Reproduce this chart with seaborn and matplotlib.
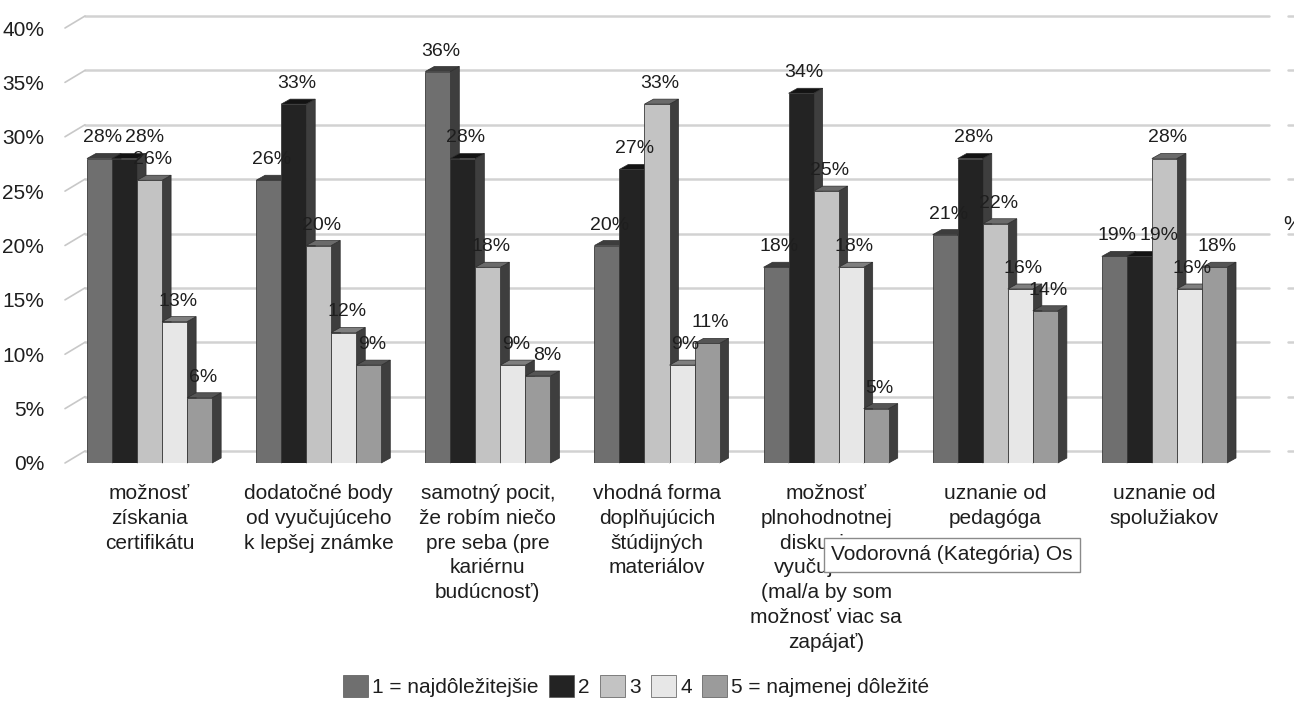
import matplotlib
matplotlib.use('Agg')
import matplotlib.pyplot as plt
from matplotlib.patches import Polygon, Patch
import pandas as pd
import seaborn as sns

# chart values (percent of answers per rank)
categories = [
    "možnosť\nzískania\ncertifikátu",
    "dodatočné body\nod vyučujúceho\nk lepšej známke",
    "samotný pocit,\nže robím niečo\npre seba (pre\nkariérnu\nbudúcnosť)",
    "vhodná forma\ndoplňujúcich\nštúdijných\nmateriálov",
    "možnosť\nplnohodnotnej\ndiskusie s\nvyučujúcim\n(mal/a by som\nmožnosť viac sa\nzapájať)",
    "uznanie od\npedagóga",
    "uznanie od\nspolužiakov",
]
ranks = ["1 = najdôležitejšie", "2", "3", "4", "5 = najmenej dôležité"]
rank1 = [28, 26, 36, 20, 18, 21, 19]
rank2 = [28, 33, 28, 27, 34, 28, 19]
rank3 = [26, 20, 18, 33, 25, 22, 28]
rank4 = [13, 12, 9, 9, 18, 16, 16]
rank5 = [6, 9, 8, 11, 5, 14, 18]
y_ticks = [0, 5, 10, 15, 20, 25, 30, 35, 40]

colors = ["#6f6f6f", "#232323", "#c3c3c3", "#e7e7e7", "#9b9b9b"]

rows = []
for r, vals in zip(ranks, [rank1, rank2, rank3, rank4, rank5]):
    for c, v in zip(categories, vals):
        rows.append({"category": c, "rank": r, "value": v})
df = pd.DataFrame(rows)

sns.set_style("white")
plt.rcParams['font.family'] = ['Liberation Sans', 'DejaVu Sans']

W, H = 1294, 704
fig = plt.figure(figsize=(W / 100, H / 100), dpi=100)
ax_left, ax_right, ax_bottom, ax_top = 65, 1249, 463, 28
ax = fig.add_axes([ax_left / W, 1 - ax_bottom / H,
                   (ax_right - ax_left) / W, (ax_bottom - ax_top) / H])

sns.barplot(data=df, x="category", y="value", hue="rank", palette=colors,
            width=0.74, saturation=1, edgecolor="#3a3a3a", linewidth=0.6,
            legend=False, ax=ax)

ax.set_xlim(-0.5, len(categories) - 0.5)
ax.set_ylim(0, 40)

# pixel -> data conversion for the fake 3D depth
px_x = (len(categories)) / (ax_right - ax_left)
px_y = 40 / (ax_bottom - ax_top)
bdx, bdy = 9 * px_x, 5 * px_y      # bar depth
gdx, gdy = 20 * px_x, 12 * px_y    # back wall offset

# back wall gridlines + floor diagonals
x0, x1 = ax.get_xlim()
for t in y_ticks:
    ax.plot([x0 + gdx, x1 + gdx], [t + gdy, t + gdy], color="#d2d2d2",
            lw=1.8, zorder=0.5, clip_on=False)
    ax.plot([x0, x0 + gdx], [t, t + gdy], color="#c8c8c8", lw=1.2,
            zorder=0.5, clip_on=False)
    ax.plot([x1 + gdx + 19 * px_x, x1 + gdx + 40 * px_x], [t + gdy, t + gdy],
            color="#d2d2d2", lw=1.8, zorder=0.5, clip_on=False)

def shade(col, f):
    return tuple(c * f for c in matplotlib.colors.to_rgb(col))

bars = sorted([p for p in ax.patches if p.get_height() > 0], key=lambda p: p.get_x())
labels = []
for p in bars:
    bx, bw, bh = p.get_x(), p.get_width(), p.get_height()
    z = 2 + bx
    fc = p.get_facecolor()
    p.set_zorder(z)
    side = Polygon([(bx + bw, 0), (bx + bw + bdx, bdy), (bx + bw + bdx, bh + bdy),
                    (bx + bw, bh)], closed=True, facecolor="#3e3e3e",
                   edgecolor="#2e2e2e", lw=0.5, zorder=z - 0.01, clip_on=False)
    top = Polygon([(bx, bh), (bx + bdx, bh + bdy), (bx + bw + bdx, bh + bdy),
                   (bx + bw, bh)], closed=True, facecolor=shade(fc, 0.55),
                  edgecolor="#2e2e2e", lw=0.5, zorder=z - 0.01, clip_on=False)
    ax.add_patch(side)
    ax.add_patch(top)
    txt = ax.annotate(f"{bh:.0f}%", (bx + bw / 2, bh), xytext=(3, 12),
                      textcoords="offset pixels", ha="center", va="bottom",
                      fontsize=14, color="#1e1e1e", zorder=20,
                      annotation_clip=False)
    labels.append(txt)

sns.despine(ax=ax, left=True, bottom=True)
ax.set_yticks(y_ticks)
ax.set_yticklabels([f"{t}%" for t in y_ticks], fontsize=15, color="#1e1e1e")
ax.tick_params(axis="y", length=0, pad=15)
ax.set_xticks(range(len(categories)))
ax.set_xticklabels(categories, fontsize=15, color="#1e1e1e", linespacing=1.39,
                   va="top")
ax.tick_params(axis="x", length=0, pad=15)
ax.set_xlabel("")
ax.set_ylabel("")
ax.grid(False)

# push value labels right when they collide with the previous one
fig.canvas.draw()
renderer = fig.canvas.get_renderer()
for prev, cur in zip(labels[:-1], labels[1:]):
    b0 = prev.get_window_extent(renderer)
    b1 = cur.get_window_extent(renderer)
    if b1.overlaps(b0):
        shift = b0.x1 - b1.x0 + 3
        ox, oy = cur.xyann
        cur.xyann = (ox + shift, oy)

handles = [Patch(facecolor=c, edgecolor="#555555", lw=0.5) for c in colors]
fig.legend(handles, ranks, loc="center", bbox_to_anchor=(636 / W, 1 - 686 / H),
           ncol=5, frameon=False, fontsize=15, handlelength=1.2,
           handleheight=1.2, handletextpad=0.2, columnspacing=0.5,
           labelcolor="#1e1e1e")

# hover tooltip visible in the screenshot
fig.text(952 / W, 1 - 555 / H, "Vodorovná (Kategória) Os", ha="center",
         va="center", fontsize=15, color="#1e1e1e", zorder=30,
         bbox=dict(boxstyle="square,pad=0.35", facecolor="white",
                   edgecolor="#8a8a8a", lw=1.0))
fig.text(1283 / W, 1 - 225 / H, "%", ha="left", va="center", fontsize=15,
         color="#1e1e1e")

fig.savefig("out.png", dpi=100)
